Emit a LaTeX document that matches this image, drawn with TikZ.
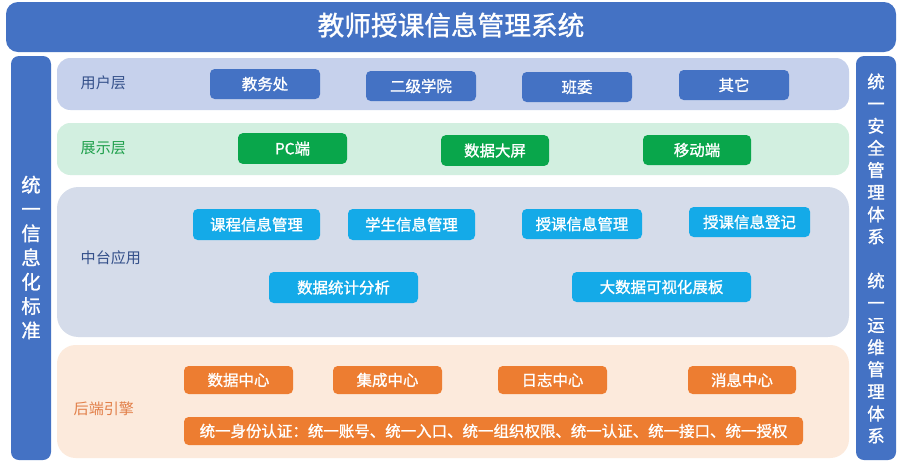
\documentclass[tikz,border=0pt]{standalone}
\usepackage{fontspec}
\setmainfont{Noto Sans CJK SC}
\newfontfamily\medfont[FakeBold=1.2]{Noto Sans CJK SC}
\definecolor{mblue}{HTML}{4472C4}
\definecolor{rowblue}{HTML}{C6D1EC}
\definecolor{rowgreen}{HTML}{D2EFE0}
\definecolor{mgreen}{HTML}{09A64B}
\definecolor{rowgray}{HTML}{D5DCEA}
\definecolor{mcyan}{HTML}{14AAE8}
\definecolor{roworange}{HTML}{FCEADC}
\definecolor{morange}{HTML}{ED7D31}
\definecolor{lbldark}{HTML}{34508A}
\definecolor{lblgreen}{HTML}{1FA04C}
\definecolor{lblorange}{HTML}{E2804A}
\tikzset{
  boxbase/.style={rounded corners=3.5pt, text=white, font=\medfont\fontsize{11.6}{13}\selectfont, inner sep=0pt},
  layerlbl/.style={anchor=west, font=\fontsize{11.3}{13}\selectfont},
}
\begin{document}
\begin{tikzpicture}[x=0.75pt,y=-0.75pt]
\useasboundingbox (0,0) rectangle (900,462);
\fill[white] (0,0) rectangle (900,462);
% title
\fill[mblue, rounded corners=9pt] (6,2) rectangle (896,52);
\node[text=white, font=\medfont\fontsize{20}{24}\selectfont] (title) at (451,25) {教师授课信息管理系统};
% side bars
\fill[mblue, rounded corners=6pt] (11,56) rectangle (51,460);
\node[text=white, font=\medfont\fontsize{14.5}{18.2}\selectfont, align=center] (lefttxt) at (31,257.5)
  {统\\一\\信\\息\\化\\标\\准};
\fill[mblue, rounded corners=6pt] (856,56) rectangle (896,460);
\node[text=white, font=\medfont\fontsize{13}{16.6}\selectfont, align=center] (righttxt) at (876,258.5)
  {统\\一\\安\\全\\管\\理\\体\\系\\[16.6pt]统\\一\\运\\维\\管\\理\\体\\系};
% rows
\fill[rowblue, rounded corners=10pt] (57,58) rectangle (849,110);
\fill[rowgreen, rounded corners=10pt] (57,123) rectangle (849,175);
\fill[rowgray, rounded corners=16pt] (57,187) rectangle (849,337);
\fill[roworange, rounded corners=14pt] (57,345) rectangle (849,458);
% labels
\node[layerlbl, text=lbldark] (l1) at (76,83) {用户层};
\node[layerlbl, text=lblgreen] (l2) at (76,148) {展示层};
\node[layerlbl, text=lbldark] (l3) at (76,258) {中台应用};
\node[layerlbl, text=lblorange] (l4) at (69,409) {后端引擎};
% row1 boxes
\node[boxbase, fill=mblue, minimum width=82.5pt, minimum height=22.5pt] (u1) at (265,84) {教务处};
\node[boxbase, fill=mblue, minimum width=82.5pt, minimum height=22.5pt] (u2) at (421,86) {二级学院};
\node[boxbase, fill=mblue, minimum width=82.5pt, minimum height=22.5pt] (u3) at (577,87) {班委};
\node[boxbase, fill=mblue, minimum width=82.5pt, minimum height=22.5pt] (u4) at (734,85) {其它};
% row2 boxes
\node[boxbase, fill=mgreen, minimum width=81.75pt, minimum height=23pt] (p1) at (292.5,148.5) {PC端};
\node[boxbase, fill=mgreen, minimum width=81pt, minimum height=23pt] (p2) at (495,150.5) {数据大屏};
\node[boxbase, fill=mgreen, minimum width=81pt, minimum height=22.5pt] (p3) at (697,150) {移动端};
% row3 boxes
\node[boxbase, fill=mcyan, minimum width=95.25pt, minimum height=23.25pt] (m1) at (256.5,224.5) {课程信息管理};
\node[boxbase, fill=mcyan, minimum width=95.25pt, minimum height=23.25pt] (m2) at (411.5,224.5) {学生信息管理};
\node[boxbase, fill=mcyan, minimum width=90pt, minimum height=22.5pt] (m3) at (582,224) {授课信息管理};
\node[boxbase, fill=mcyan, minimum width=90.75pt, minimum height=22.5pt] (m4) at (749.5,222) {授课信息登记};
\node[boxbase, fill=mcyan, minimum width=111.75pt, minimum height=23.25pt] (m5) at (343.5,287.5) {数据统计分析};
\node[boxbase, fill=mcyan, minimum width=134.25pt, minimum height=22.5pt] (m6) at (661.5,287) {大数据可视化展板};
% row4 boxes
\node[boxbase, fill=morange, minimum width=81.75pt, minimum height=21pt] (b1) at (238.5,380) {数据中心};
\node[boxbase, fill=morange, minimum width=81.75pt, minimum height=21pt] (b2) at (387.5,380) {集成中心};
\node[boxbase, fill=morange, minimum width=81.75pt, minimum height=21pt] (b3) at (552.5,380) {日志中心};
\node[boxbase, fill=morange, minimum width=81pt, minimum height=21pt] (b4) at (742,380) {消息中心};
\node[boxbase, fill=morange, minimum width=464.25pt, minimum height=21pt] (b5) at (493.5,431) {统一身份认证：统一账号、统一入口、统一组织权限、统一认证、统一接口、统一授权};
\end{tikzpicture}
\end{document}
